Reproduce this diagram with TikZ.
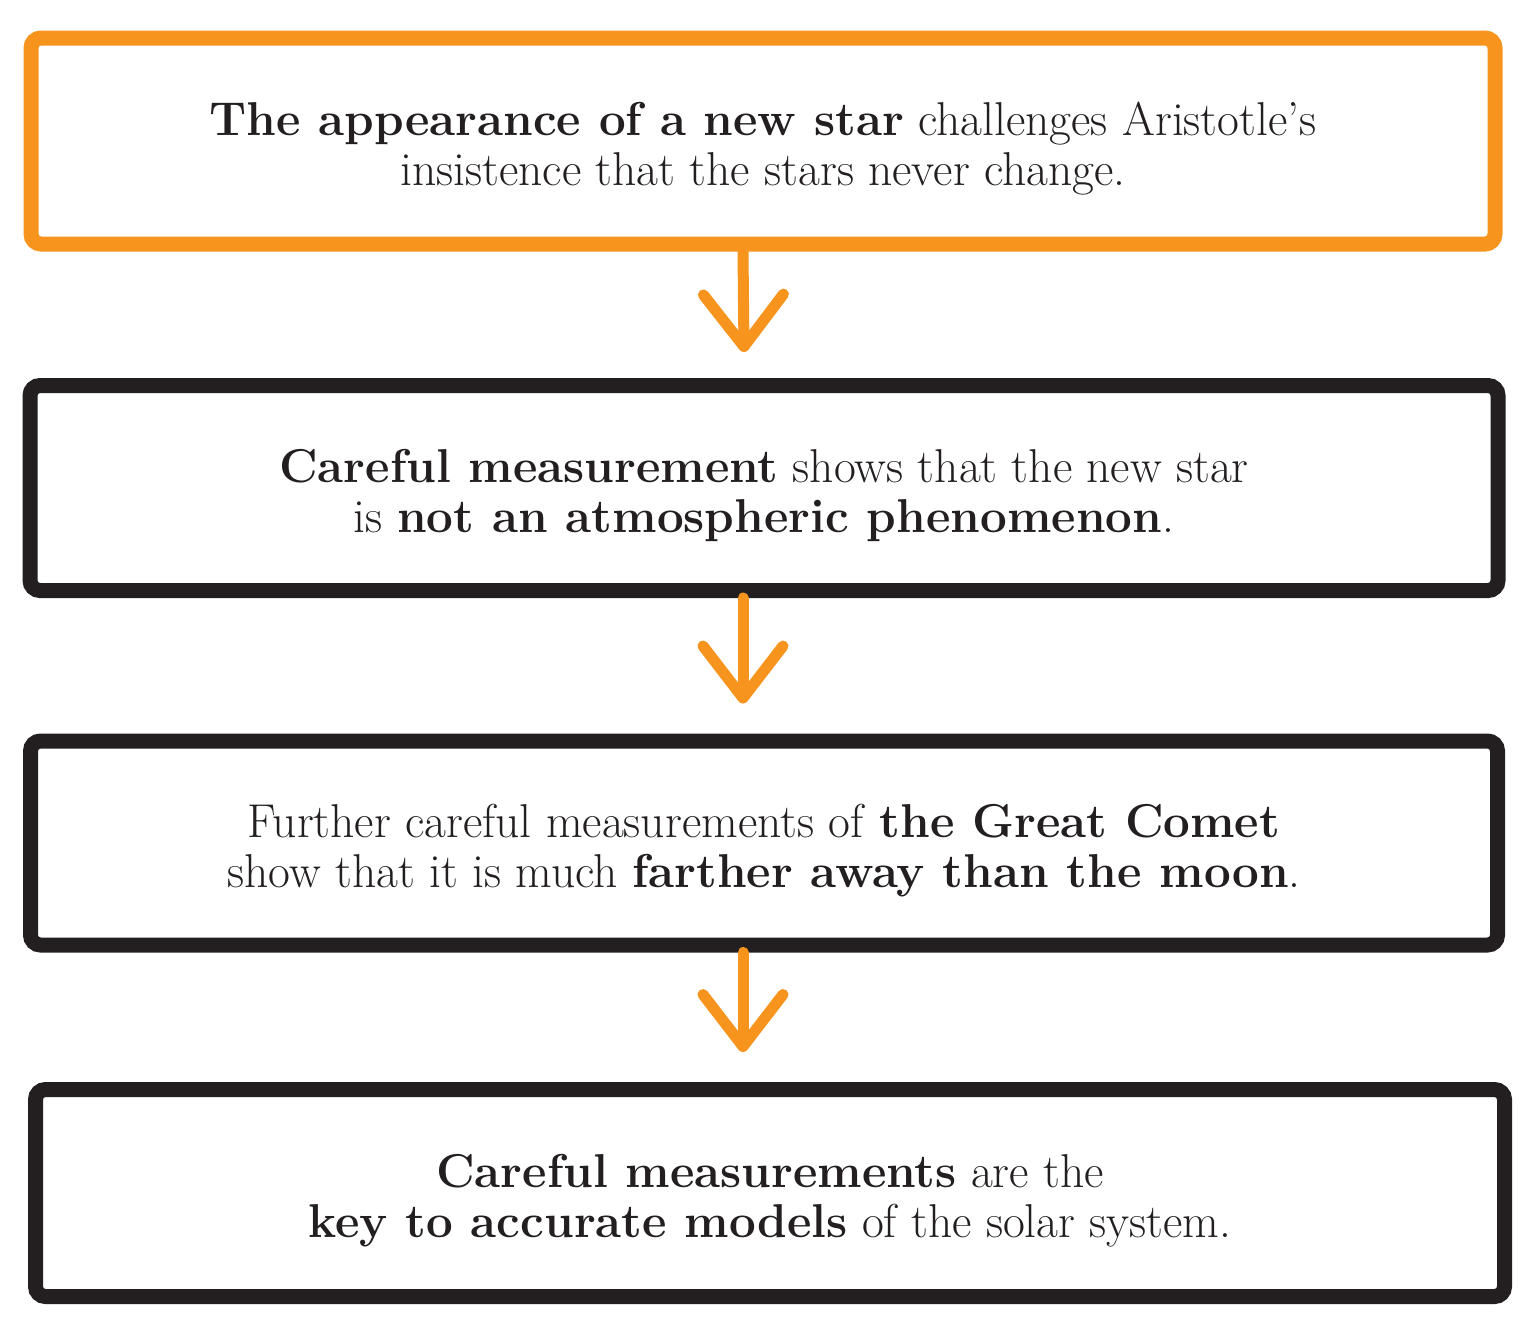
\documentclass[tikz,border=0pt]{standalone}
\usetikzlibrary{arrows.meta}
\definecolor{chalkorange}{HTML}{F7941D}
\definecolor{chalkblack}{HTML}{231F20}
% taller first line pushes the two-line text a little lower in its box
\newcommand{\firstline}{\rule{0pt}{49pt}}
\begin{document}
\begin{tikzpicture}[x=1pt,y=-1pt,
  stepbox/.style={draw=chalkblack,line width=15pt,rounded corners=10pt,
    align=center,text=chalkblack,
    font=\fontsize{47.5}{50}\selectfont,inner sep=0pt},
  firstbox/.style={stepbox,draw=chalkorange},
  conn/.style={draw=chalkorange,line width=11pt,line cap=round,line join=round,
    -{Straight Barb[length=52pt,width=80pt,round]}}]
\useasboundingbox (0,0) rectangle (1536,1328);
\fill[white] (0,0) rectangle (1536,1328);

\node[firstbox,minimum width=1464pt,minimum height=206pt] (b1) at (763,141)
  {\firstline\textbf{The appearance of a new star} challenges Aristotle's\\
   insistence that the stars never change.};
\node[stepbox,minimum width=1468pt,minimum height=205pt] (b2) at (764,488)
  {\firstline\textbf{Careful measurement} shows that the new star\\
   is \textbf{not an atmospheric phenomenon}.};
\node[stepbox,minimum width=1467pt,minimum height=204pt] (b3) at (764,843)
  {\firstline Further careful measurements of \textbf{the Great Comet}\\
   show that it is much \textbf{farther away than the moon}.};
\node[stepbox,minimum width=1469pt,minimum height=207pt] (b4) at (770,1193)
  {\firstline\textbf{Careful measurements} are the\\
   \textbf{key to accurate models} of the solar system.};

\draw[conn] ([xshift=-20pt]b1.south) -- ([xshift=-20pt,yshift=26pt]b2.north);
\draw[conn] ([xshift=-21pt]b2.south) -- ([xshift=-21pt,yshift=30pt]b3.north);
\draw[conn] ([xshift=-21pt]b3.south) -- ([xshift=-27pt,yshift=30pt]b4.north);
\end{tikzpicture}
\end{document}
